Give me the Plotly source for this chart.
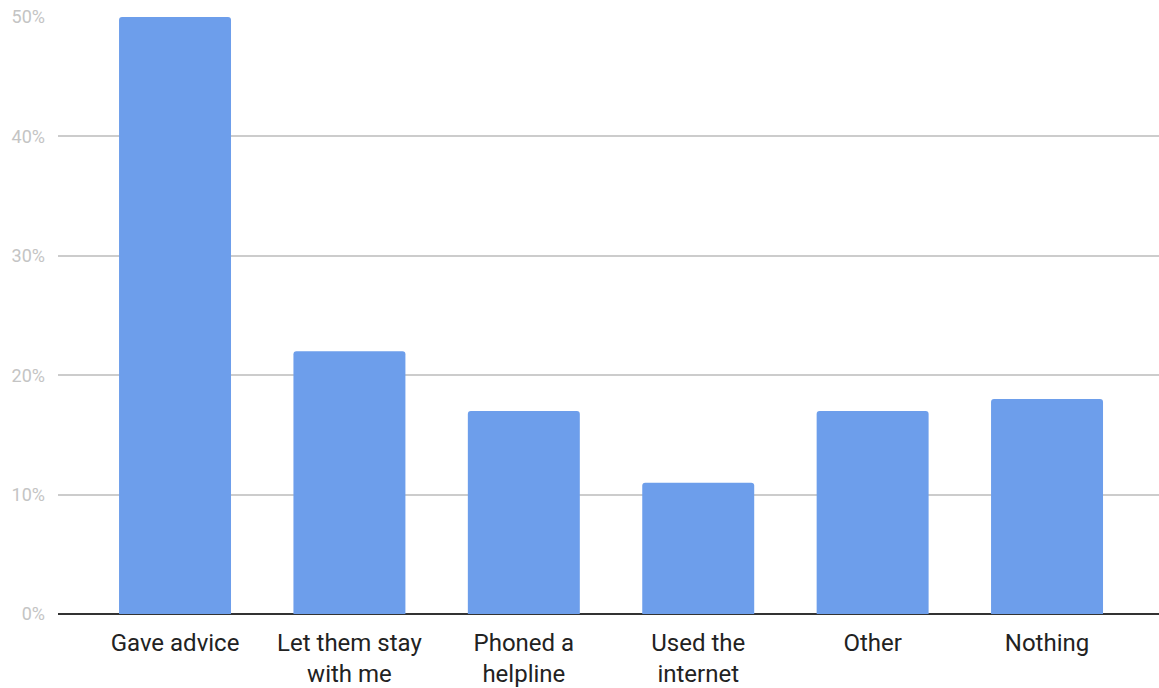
import plotly.graph_objects as go

categories = ["Gave advice", "Let them stay<br>with me", "Phoned a<br>helpline",
              "Used the<br>internet", "Other", "Nothing"]
shares = [50, 22, 17, 11, 17, 18]
y_ticks = [0, 10, 20, 30, 40, 50]
y_tick_labels = ["0%", "10%", "20%", "30%", "40%", "50%"]

fig = go.Figure(
    go.Bar(
        x=list(range(len(categories))),
        y=shares,
        marker=dict(color="#6d9eeb", line=dict(width=0), cornerradius=3),
        hoverinfo="skip",
    )
)

fig.update_layout(
    width=1159,
    height=688,
    margin=dict(l=58, r=0, t=17, b=74),
    paper_bgcolor="white",
    plot_bgcolor="white",
    bargap=0.358,
    showlegend=False,
    font=dict(family="Roboto", color="#222222"),
)

fig.update_xaxes(
    tickmode="array",
    tickvals=list(range(len(categories))),
    ticktext=categories,
    range=[-0.671, 5.642],
    showgrid=False,
    zeroline=False,
    showline=False,
    ticks="",
    ticklabelstandoff=12,
    tickfont=dict(size=24, color="#222222"),
)

fig.update_yaxes(
    range=[0, 50],
    tickmode="array",
    tickvals=y_ticks,
    ticktext=y_tick_labels,
    showgrid=True,
    gridcolor="#cccccc",
    gridwidth=2,
    zeroline=True,
    zerolinecolor="#333333",
    zerolinewidth=2,
    showline=False,
    ticks="",
    ticklabelstandoff=12,
    tickfont=dict(size=18, color="#c4c4c4"),
)

fig.write_html("out.html")
